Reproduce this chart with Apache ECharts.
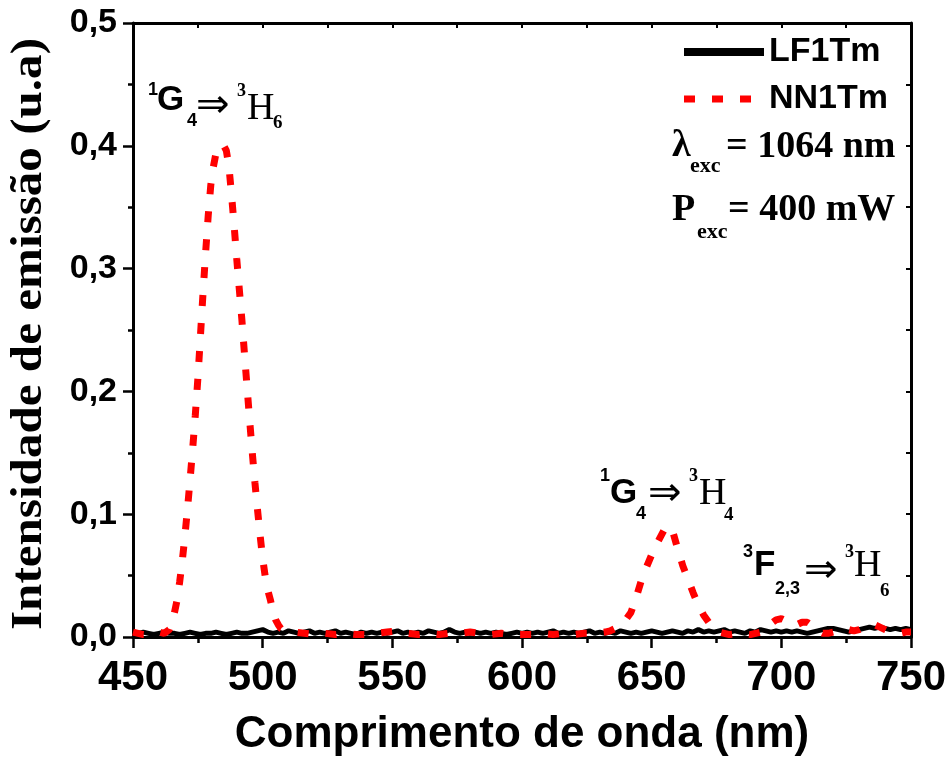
<!DOCTYPE html>
<html>
<head>
<meta charset="utf-8">
<script src="https://cdn.jsdelivr.net/npm/echarts@6/dist/echarts.min.js"></script>
<style>
html,body{margin:0;padding:0;background:#fff;}
#chart{width:951px;height:763px;}
</style>
</head>
<body>
<div id="chart"></div>
<script>
// ---- data ----
const seriesNames = ['LF1Tm', 'NN1Tm'];
const xTicks = [450, 500, 550, 600, 650, 700, 750];
const yTickLabels = ['0,0', '0,1', '0,2', '0,3', '0,4', '0,5'];

const lfWave = [
  450,452,454,456,458,460,462,464,466,468,470,472,474,476,478,480,482,484,486,488,490,492,494,496,498,
  500,502,504,506,508,510,512,514,516,518,520,522,524,526,528,530,532,534,536,538,540,542,544,546,548,
  550,552,554,556,558,560,562,564,566,568,570,572,574,576,578,580,582,584,586,588,590,592,594,596,598,
  600,602,604,606,608,610,612,614,616,618,620,622,624,626,628,630,632,634,636,638,640,642,644,646,648,
  650,652,654,656,658,660,662,664,666,668,670,672,674,676,678,680,682,684,686,688,690,692,694,696,698,
  700,702,704,706,708,710,712,714,716,718,720,722,724,726,728,730,732,734,736,738,740,742,744,746,748,750
];
const lfValue = [
  0.004,0.003,0.004,0.003,0.002,0.003,0.004,0.003,0.003,0.002,0.003,0.004,0.003,0.002,0.003,0.003,0.004,0.003,0.002,0.003,0.004,0.003,0.003,0.004,0.005,
  0.006,0.004,0.003,0.004,0.003,0.005,0.004,0.003,0.004,0.005,0.003,0.004,0.003,0.004,0.005,0.003,0.004,0.003,0.002,0.004,0.003,0.004,0.003,0.004,0.003,
  0.004,0.005,0.003,0.004,0.003,0.004,0.003,0.005,0.004,0.003,0.004,0.006,0.004,0.003,0.004,0.003,0.004,0.003,0.004,0.003,0.004,0.003,0.002,0.003,0.004,
  0.003,0.004,0.003,0.004,0.003,0.004,0.005,0.003,0.004,0.003,0.004,0.003,0.004,0.005,0.003,0.004,0.003,0.004,0.003,0.005,0.004,0.003,0.004,0.003,0.004,
  0.005,0.004,0.003,0.004,0.005,0.004,0.003,0.005,0.004,0.006,0.004,0.005,0.004,0.005,0.006,0.004,0.005,0.004,0.003,0.005,0.004,0.006,0.005,0.004,0.005,
  0.004,0.005,0.004,0.005,0.004,0.003,0.004,0.005,0.006,0.007,0.007,0.006,0.005,0.004,0.005,0.006,0.007,0.008,0.007,0.008,0.007,0.006,0.007,0.006,0.007,0.006
];

const nnWave = [
  450,452,454,456,458,460,462,464,465,466,467,468,469,470,471,472,473,474,475,476,477,478,479,480,481,482,483,484,485,486,
  487,488,489,490,491,492,493,494,495,496,497,498,499,500,501,502,503,504,505,506,507,508,510,512,516,520,524,528,532,536,
  540,544,548,552,556,560,564,568,572,576,580,584,588,592,596,600,604,608,612,616,620,624,628,632,634,636,638,640,642,644,
  646,648,650,652,654,655,656,657,658,660,662,664,666,668,670,672,674,676,678,680,684,688,692,694,696,698,700,702,704,706,
  708,710,712,714,716,718,720,722,724,726,728,730,732,734,736,738,740,742,744,746,748,750
];
const nnValue = [
  0.004,0.003,0.002,0.002,0.003,0.004,0.003,0.006,0.012,0.020,0.030,0.045,0.062,0.082,0.104,0.128,0.153,0.180,0.210,0.245,0.280,0.313,0.343,0.368,0.383,0.394,0.399,0.401,0.400,0.396,
  0.383,0.360,0.335,0.308,0.283,0.258,0.230,0.203,0.176,0.150,0.126,0.104,0.083,0.064,0.049,0.038,0.030,0.021,0.014,0.010,0.007,0.006,0.005,0.004,0.003,0.002,0.003,0.002,0.003,0.002,
  0.002,0.003,0.004,0.005,0.003,0.002,0.003,0.002,0.003,0.003,0.004,0.003,0.002,0.003,0.002,0.002,0.002,0.003,0.002,0.003,0.002,0.003,0.003,0.004,0.005,0.007,0.010,0.014,0.020,0.032,
  0.046,0.057,0.067,0.076,0.084,0.088,0.090,0.090,0.087,0.072,0.058,0.047,0.036,0.026,0.018,0.012,0.007,0.004,0.003,0.002,0.003,0.002,0.004,0.007,0.011,0.014,0.015,0.013,0.010,0.010,
  0.012,0.012,0.009,0.005,0.003,0.003,0.004,0.006,0.007,0.006,0.005,0.006,0.008,0.010,0.010,0.008,0.006,0.004,0.003,0.003,0.004,0.004
];

// ---- helpers ----
const SANS = '"Liberation Sans", Arial, sans-serif';
const SERIF = '"Liberation Serif", "Times New Roman", serif';
const F = {
  supSans: 'bold 18px ' + SANS,
  mainSans: 'bold 35px ' + SANS,
  subSans: 'bold 18px ' + SANS,
  arrow: '40px "DejaVu Sans", sans-serif',
  supSerif: 'bold 18px ' + SERIF,
  mainSerif: '38px ' + SERIF,
  subSerif: 'bold 19px ' + SERIF,
  big: 'bold 38px ' + SERIF,
  small: 'bold 22px ' + SERIF
};
function frag(text, x, y, font) {
  return {
    type: 'text', x: x, y: y, silent: true, z: 100,
    style: { text: text, font: font, fill: '#000', textAlign: 'left', align: 'left', textVerticalAlign: 'middle', verticalAlign: 'middle' }
  };
}
const annotations = [
  ['1',148,90,'supSans'], ['G',157,100.5,'mainSans'], ['4',187,121.5,'subSans'], ['\u21D2',196,107,'arrow'],
  ['3',237,91,'supSerif'], ['H',247,109,'mainSerif'], ['6',273,123.5,'subSerif'],
  ['1',600,476,'supSans'], ['G',610,493.5,'mainSans'], ['4',636,514,'subSans'], ['\u21D2',648,495,'arrow'],
  ['3',689,476,'supSerif'], ['H',699,494,'mainSerif'], ['4',724,515,'subSerif'],
  ['3',743,552,'supSans'], ['F',754,565,'mainSans'], ['2,3',775,589,'subSans'], ['\u21D2',804,572,'arrow'],
  ['3',845,552,'supSerif'], ['H',854,566,'mainSerif'], ['6',880,591,'subSerif'],
  ['\u03BB',672,146,'big'], ['exc',690,166,'small'], ['= 1064 nm',726,147,'big'],
  ['P',672,210,'big'], ['exc',697,232,'small'], ['= 400 mW',728,210,'big']
];
const graphics = annotations.map(a => frag(a[0], a[1], a[2], F[a[3]]));
graphics.push({
  type: 'text', x: 30, y: 334, rotation: Math.PI / 2, scaleX: 1.116, silent: true,
  style: { text: 'Intensidade de emiss\u00e3o (u.a)', font: 'bold 44px ' + SERIF, fill: '#000',
    textAlign: 'center', align: 'center', textVerticalAlign: 'middle', verticalAlign: 'middle' }
});

const axisCommon = {
  type: 'value',
  axisLine: { show: true, onZero: false, lineStyle: { color: '#000', width: 3 } },
  splitLine: { show: false }
};

const chart = echarts.init(document.getElementById('chart'), null, { renderer: 'canvas' });
chart.setOption({
  animation: false,
  backgroundColor: '#fff',
  grid: { left: 133, right: 40, top: 23, bottom: 126, containLabel: false },
  legend: {
    orient: 'vertical', left: 675, top: 30, itemWidth: 80, itemHeight: 14, itemGap: 13,
    textStyle: { fontFamily: SANS, fontWeight: 'bold', fontSize: 34, color: '#000' },
    itemStyle: { opacity: 0, color: 'rgba(0,0,0,0)', borderWidth: 0 },
    data: [
      { name: seriesNames[0], itemStyle: { opacity: 0, color: 'rgba(0,0,0,0)', borderWidth: 0 },
        lineStyle: { width: 8, color: '#000', type: 'solid' } },
      { name: seriesNames[1], itemStyle: { opacity: 0, color: 'rgba(0,0,0,0)', borderWidth: 0 },
        lineStyle: { width: 7, color: '#ff0000', type: [11, 17] } }
    ],
    selectedMode: false
  },
  xAxis: [
    Object.assign({}, axisCommon, {
      position: 'bottom', min: xTicks[0], max: xTicks[xTicks.length - 1], interval: 50,
      axisTick: { show: true, inside: false, length: 11, lineStyle: { color: '#000', width: 2.5 } },
      minorTick: { show: true, splitNumber: 2, length: 6, lineStyle: { color: '#000', width: 2.5 } },
      axisLabel: { color: '#000', fontFamily: SANS, fontWeight: 'bold', fontSize: 42, margin: 20 },
      name: 'Comprimento de onda (nm)', nameLocation: 'middle', nameGap: 76,
      nameTextStyle: { color: '#000', fontFamily: SANS, fontWeight: 'bold', fontSize: 44 }
    }),
    Object.assign({}, axisCommon, {
      position: 'top', min: xTicks[0], max: xTicks[xTicks.length - 1], interval: 25,
      axisTick: { show: true, inside: true, length: 5, lineStyle: { color: '#000', width: 2 } },
      axisLabel: { show: false }
    })
  ],
  yAxis: [
    Object.assign({}, axisCommon, {
      position: 'left', min: 0, max: 0.5, interval: 0.1,
      axisTick: { show: true, inside: false, length: 10, lineStyle: { color: '#000', width: 2.5 } },
      minorTick: { show: true, splitNumber: 2, length: 5, lineStyle: { color: '#000', width: 2.5 } },
      axisLabel: { color: '#000', fontFamily: SANS, fontWeight: 'bold', fontSize: 34, margin: 16,
        formatter: v => yTickLabels[Math.round(v * 10)] }
    }),
    Object.assign({}, axisCommon, {
      position: 'right', min: 0, max: 0.5, interval: 0.05,
      axisTick: { show: true, inside: true, length: 5, lineStyle: { color: '#000', width: 2 } },
      axisLabel: { show: false }
    })
  ],
  series: [
    {
      name: seriesNames[0], type: 'line', xAxisIndex: 0, yAxisIndex: 0,
      data: lfWave.map((w, i) => [w, lfValue[i]]),
      symbol: 'none', showSymbol: false,
      lineStyle: { color: '#000', width: 5 }, itemStyle: { color: '#000' }, z: 2
    },
    {
      name: seriesNames[1], type: 'line', xAxisIndex: 0, yAxisIndex: 0,
      data: nnWave.map((w, i) => [w, nnValue[i]]),
      symbol: 'none', showSymbol: false,
      lineStyle: { color: '#ff0000', width: 7, type: [11, 17], cap: 'butt' }, itemStyle: { color: '#ff0000' }, z: 3
    }
  ],
  graphic: graphics
});
</script>
</body>
</html>
